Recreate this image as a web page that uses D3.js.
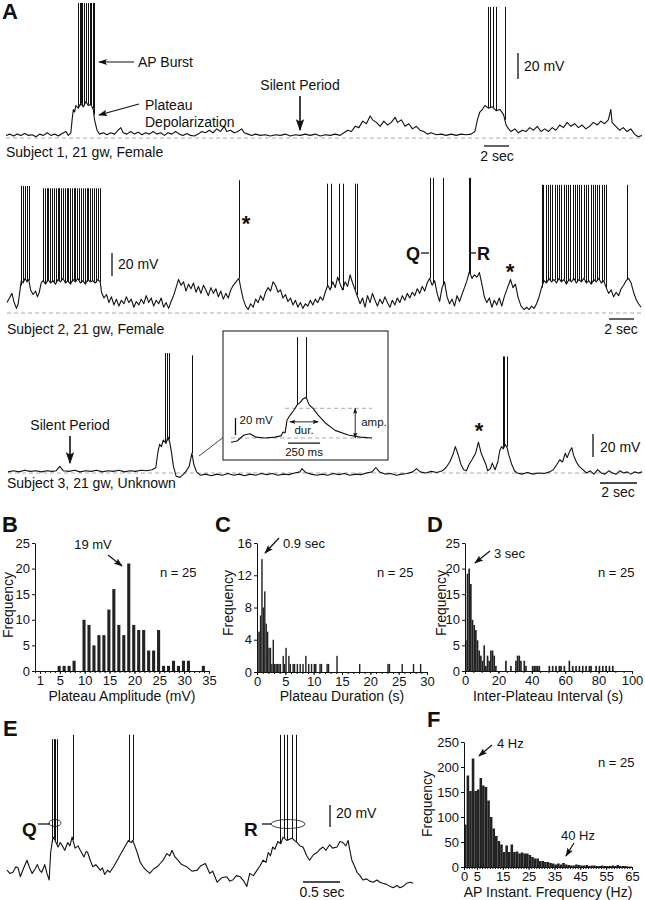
<!DOCTYPE html>
<html>
<head>
<meta charset="utf-8">
<script src="https://cdn.jsdelivr.net/npm/d3@7"></script>
<style>
body { margin: 0; background: #fff; }
svg text { font-family: "Liberation Sans", Arial, Helvetica, sans-serif; fill: #111; }
</style>
</head>
<body>
<svg id="fig" width="645" height="900"></svg>
<script>
// ---------- data ----------

// A, subject 1 trace: [time s, mV above rest]
var trace1 = [[0,2],[0.3,3],[0.6,1.5],[0.9,3],[1.2,2],[1.5,3.5],[1.8,2],[2.1,2.5],[2.4,1],[2.7,3],[3,2],[3.3,4],[3.6,2],[3.9,3],[4.2,1.5],[4.5,3.5],[4.8,5],[5,2],[5.2,4],[5.3,14],[5.4,22],[5.5,20],[5.6,25],[5.8,23],[6,27],[6.2,24],[6.4,28],[6.6,25],[6.8,26],[7,22],[7.1,14],[7.3,6],[7.5,3],[7.8,4],[8.1,2.5],[8.4,4],[8.7,3],[9,6],[9.2,8],[9.4,4],[9.7,3],[10,5],[10.3,3],[10.6,4.5],[10.9,2.5],[11.2,4],[11.5,3],[11.8,5],[12.1,3],[12.4,4],[12.7,2],[13,4],[13.3,3],[13.6,5],[13.9,3],[14.2,2],[14.5,3.5],[14.8,2],[15.1,1.5],[15.4,3],[15.7,5],[16,4],[16.3,6],[16.6,4],[16.9,7],[17.2,5],[17.5,9],[17.7,5],[18,6],[18.3,4],[18.6,5],[18.9,7],[19.1,4],[19.4,3],[19.7,2],[20,3],[20.4,2],[20.8,2.5],[21.2,1.5],[21.6,2.5],[22,2],[22.4,3],[22.8,1.5],[23.2,2.5],[23.6,2],[24,3],[24.4,2],[24.8,3],[25.2,1.5],[25.6,2.5],[26,2],[26.4,3],[26.8,2],[27.1,4],[27.4,6],[27.7,5],[28,9],[28.3,8],[28.6,13],[28.9,11],[29.2,17],[29.4,14],[29.7,12],[30,9],[30.3,13],[30.6,10],[30.9,12],[31.2,16],[31.4,12],[31.7,14],[32,9],[32.3,11],[32.6,7],[32.9,9],[33.2,6],[33.5,5],[33.8,3],[34.1,4],[34.5,2.5],[34.9,3],[35.3,2],[35.7,3],[36.1,2],[36.5,3],[36.9,2.5],[37.3,3],[37.6,5],[37.8,14],[38,20],[38.2,22],[38.4,25],[38.7,23],[39,24],[39.3,21],[39.6,22],[39.9,18],[40.1,10],[40.3,7],[40.5,5],[40.8,7],[41.1,4],[41.4,6],[41.7,5],[42,8],[42.3,6],[42.6,9],[42.9,5],[43.2,7],[43.5,5],[43.8,8],[44.1,6],[44.4,10],[44.7,8],[45,12],[45.3,9],[45.6,11],[45.9,8],[46.2,10],[46.5,7],[46.8,9],[47.1,12],[47.4,10],[47.7,13],[48,11],[48.3,14],[48.5,22],[48.6,12],[48.9,9],[49.2,6],[49.5,8],[49.8,5],[50.1,7],[50.4,3],[50.7,1],[51,2]];
var trace1Spikes = [[5.8,104],[5.9,104],[6.0,104],[6.13,104],[6.25,104],[6.4,104],[6.55,104],[6.72,104],[6.85,104],[6.96,104],[7.05,104],[38.65,101],[38.81,101],[39.05,101],[39.29,101],[40.0,101]];

// A, subject 2 trace
var trace2 = [[0,9],[0.2,13],[0.4,17],[0.55,10],[0.76,4],[0.9,8],[1.05,20],[1.15,28],[1.3,26],[1.45,30],[1.6,27],[1.75,29],[1.9,20],[2.1,16],[2.3,19],[2.45,14],[2.6,18],[2.75,26],[2.9,28],[3.1,25],[3.3,29],[3.5,26],[3.7,28],[3.9,25],[4.1,29],[4.3,27],[4.5,30],[4.7,26],[4.9,28],[5.1,25],[5.3,29],[5.5,27],[5.7,30],[5.9,26],[6.1,28],[6.3,25],[6.5,29],[6.7,27],[6.9,28],[7.1,26],[7.3,29],[7.5,27],[7.6,18],[7.8,13],[8,16],[8.2,9],[8.4,14],[8.6,7],[8.8,12],[9,6],[9.2,11],[9.4,8],[9.6,14],[9.8,9],[10,12],[10.2,5],[10.4,10],[10.6,7],[10.8,12],[11,8],[11.2,15],[11.4,9],[11.6,13],[11.8,6],[12,11],[12.2,8],[12.4,13],[12.6,5],[12.8,9],[13,4],[13.2,10],[13.4,15],[13.6,22],[13.8,29],[14,24],[14.2,27],[14.4,19],[14.6,25],[14.8,21],[15,26],[15.2,18],[15.4,23],[15.6,17],[15.8,24],[16,20],[16.2,15],[16.4,22],[16.6,17],[16.8,21],[17,14],[17.2,19],[17.4,12],[17.6,17],[17.8,13],[18,20],[18.2,24],[18.5,28],[18.66,30],[18.8,22],[19,12],[19.2,6],[19.4,3],[19.6,8],[19.8,5],[20,12],[20.2,9],[20.4,15],[20.6,11],[20.8,18],[21,22],[21.2,19],[21.4,27],[21.6,24],[21.8,18],[22,20],[22.2,13],[22.4,16],[22.6,10],[22.8,13],[23,7],[23.2,11],[23.4,5],[23.6,9],[23.8,4],[24,8],[24.2,6],[24.4,11],[24.6,7],[24.8,12],[25,9],[25.2,14],[25.4,11],[25.6,18],[25.8,24],[26,20],[26.2,27],[26.4,22],[26.6,31],[26.8,25],[27,20],[27.2,27],[27.4,23],[27.6,33],[27.8,26],[28,20],[28.2,14],[28.4,8],[28.6,13],[28.8,5],[29,15],[29.2,9],[29.4,17],[29.6,11],[29.8,6],[30,12],[30.2,8],[30.4,14],[30.6,9],[30.8,5],[31,11],[31.2,7],[31.4,13],[31.6,9],[31.8,15],[32,11],[32.2,17],[32.4,13],[32.6,18],[32.8,15],[33,21],[33.2,17],[33.4,23],[33.6,19],[33.8,26],[34,30],[34.2,24],[34.4,28],[34.6,17],[34.8,10],[35,22],[35.2,27],[35.4,14],[35.6,8],[35.8,12],[36,6],[36.2,15],[36.4,10],[36.6,16],[36.8,22],[37,28],[37.2,36],[37.4,30],[37.6,33],[37.8,31],[38,35],[38.2,25],[38.4,14],[38.6,9],[38.8,13],[39,5],[39.2,11],[39.4,7],[39.6,13],[39.8,6],[40,14],[40.2,20],[40.5,29],[40.7,22],[40.9,25],[41.1,14],[41.35,6],[41.6,3],[41.8,5],[42,3],[42.2,6],[42.4,4],[42.6,8],[42.8,14],[43,22],[43.2,28],[43.4,26],[43.6,30],[43.8,27],[44,29],[44.2,26],[44.4,30],[44.6,27],[44.8,29],[45,25],[45.2,29],[45.4,27],[45.6,30],[45.8,26],[46,29],[46.2,27],[46.4,30],[46.6,26],[46.8,28],[47,25],[47.2,29],[47.4,27],[47.6,30],[47.8,26],[48,28],[48.2,22],[48.4,17],[48.6,20],[48.8,14],[49,18],[49.2,15],[49.4,21],[49.6,24],[49.8,28],[50,30],[50.2,26],[50.4,18],[50.6,12],[50.8,8],[51,5]];
var trace2Spikes = [[1.1,110],[1.26,110],[1.43,110],[1.6,110],[1.76,110],
  [2.92,108],[3.05,108],[3.2,108],[3.32,108],[3.45,108],[3.6,108],[3.78,108],[3.95,108],[4.1,108],[4.22,108],[4.38,108],[4.5,108],[4.65,108],[4.8,108],[4.92,108],[5.05,108],[5.2,108],[5.35,108],[5.5,108],[5.62,108],[5.78,108],[5.92,108],[6.1,108],[6.25,108],[6.4,108],[6.55,108],[6.7,108],[6.85,108],[7.0,108],[7.12,108],[7.3,108],[7.5,108],
  [18.66,115],
  [25.75,112],[26.05,112],[26.7,112],[27.0,112],[28.0,112],[28.15,112],
  [34.0,117],[34.3,117],[35.1,117],[37.17,117],[37.25,117],
  [43.0,111],[43.15,111],[43.35,111],[43.5,111],[43.7,111],[43.85,111],[44.05,111],[44.25,111],[44.4,111],[44.6,111],[44.8,111],[44.95,111],[45.15,111],[45.3,111],[45.5,111],[45.7,111],[45.85,111],[46.05,111],[46.2,111],[46.4,111],[46.6,111],[46.75,111],[46.95,111],[47.1,111],[47.3,111],[47.5,111],[47.65,111],[47.85,111],[48.0,111],[48.2,111],[49.85,111]];

// A, subject 3 trace
var trace3 = [[0,1],[0.3,2],[0.6,1],[0.9,2.5],[1.2,1.5],[1.5,2],[1.8,1],[2.1,2],[2.4,1.5],[2.6,2],[2.8,6],[3,2],[3.3,1.5],[3.6,2.5],[3.9,1],[4.2,2],[4.5,1.5],[4.8,2.5],[5.1,1],[5.4,2],[5.7,1.5],[6,2.5],[6.3,1],[6.6,2],[6.9,1.5],[7.2,2.5],[7.5,2],[7.8,3],[8,5],[8.1,18],[8.2,26],[8.3,24],[8.4,30],[8.55,27],[8.65,33],[8.75,28],[8.85,18],[8.95,6],[9.1,-3],[9.3,-4],[9.5,-1],[9.65,2],[9.8,6],[9.9,14],[9.95,18],[10.05,8],[10.2,1],[10.4,-2],[10.7,-1],[11,-2.5],[11.3,-1],[11.6,-2],[11.9,-0.5],[12.2,-2],[12.5,-1],[12.8,-2.5],[13.1,-1],[13.4,-2],[13.7,-0.5],[14,-1.5],[14.3,-0.5],[14.6,-2],[14.9,-1],[15.2,-1.5],[15.5,0],[15.8,1],[15.9,4],[16.1,0.5],[16.4,-1],[16.7,-2],[17,-1],[17.3,-2],[17.6,-0.5],[17.9,-1.5],[18.2,-0.5],[18.5,-2],[18.8,-1],[19.1,-1.5],[19.4,0],[19.7,1],[19.9,5],[20.1,1],[20.4,-1],[20.7,-0.5],[21,-2],[21.3,-1],[21.6,-0.5],[21.9,1],[22.1,4],[22.3,1],[22.6,0],[22.9,1.5],[23.2,0.5],[23.5,2],[23.7,5],[23.9,10],[24.1,18],[24.2,24],[24.35,17],[24.5,8],[24.65,3],[24.8,2],[24.95,8],[25.1,12],[25.3,18],[25.45,28],[25.6,18],[25.75,12],[25.85,8],[25.95,2],[26.1,4],[26.2,9],[26.35,3],[26.5,10],[26.6,20],[26.7,24],[26.8,22],[26.9,26],[27,23],[27.1,16],[27.25,8],[27.4,2],[27.55,0],[27.8,-1],[28.1,0.5],[28.4,-1],[28.7,0],[29,-0.5],[29.3,1],[29.5,3],[29.7,8],[29.85,12],[30,10],[30.15,18],[30.25,14],[30.4,20],[30.5,23],[30.6,16],[30.75,10],[30.9,6],[31.1,3],[31.3,0],[31.5,2],[31.7,-1],[31.9,3],[32.1,0],[32.3,-1],[32.5,2],[32.7,0],[32.9,-1],[33.1,2],[33.3,0],[33.5,1],[33.7,-1],[33.9,1],[34.1,0],[34.3,1]];
var trace3Spikes = [[8.49,109],[8.59,109],[8.7,109],[9.95,107],[26.76,106],[26.86,106],[26.97,106]];

// inset: [ms, mV]
var insetTrace = [[0,-5],[47,-3.5],[102,3.5],[148,5],[195,1],[266,0],[344,1],[390,2.5],[406,7],[422,6],[437,21],[461,27],[492,33],[516,39],[540,42],[562,46],[586,48],[610,39],[640,35],[680,27],[734,18],[812,9],[914,3.5],[1008,1],[1100,0]];
var insetSpikes = [[516,119],[586,119]];

// E: [s, mV]
var traceE = [[0,9],[0.04,6],[0.08,7],[0.12,12],[0.15,11],[0.18,3],[0.22,10],[0.27,18],[0.3,12],[0.34,6],[0.38,10],[0.41,14],[0.44,9],[0.47,7],[0.51,14],[0.54,6],[0.57,0],[0.59,25],[0.62,39],[0.65,36],[0.69,30],[0.72,34],[0.74,32],[0.78,27],[0.82,34],[0.85,31],[0.88,39],[0.92,29],[0.96,31],[0.99,27],[1.04,21],[1.07,26],[1.09,25],[1.13,17],[1.16,12],[1.2,14],[1.26,9],[1.29,11],[1.32,5],[1.36,9],[1.39,7],[1.44,12],[1.49,18],[1.54,24],[1.59,30],[1.64,36],[1.68,34],[1.7,36],[1.76,25],[1.8,16],[1.84,12],[1.88,9],[1.93,6],[1.98,10],[2.03,12],[2.07,15],[2.11,18],[2.16,24],[2.2,22],[2.23,27],[2.27,21],[2.31,18],[2.36,14],[2.43,12],[2.5,8],[2.57,9],[2.62,13],[2.68,15],[2.74,6],[2.78,8],[2.84,-2],[2.9,2],[2.97,3],[3.01,-1],[3.05,0],[3.1,4],[3.15,3],[3.2,-1],[3.24,-6],[3.28,6],[3.33,4],[3.38,9],[3.42,13],[3.46,18],[3.5,16],[3.53,25],[3.56,22],[3.59,30],[3.62,28],[3.66,35],[3.7,33],[3.73,39],[3.78,36],[3.85,38],[3.92,34],[3.96,31],[4,30],[4.05,22],[4.09,18],[4.14,23],[4.19,25],[4.23,28],[4.27,30],[4.31,27],[4.36,32],[4.4,29],[4.46,30],[4.5,35],[4.54,34],[4.58,31],[4.61,36],[4.63,28],[4.66,18],[4.7,12],[4.73,7],[4.77,4],[4.81,0],[4.86,1],[4.9,-1],[4.95,-2],[5.0,0],[5.04,-2],[5.08,-3],[5.13,-4],[5.18,-6],[5.22,-7],[5.27,-5],[5.31,-7],[5.35,-6],[5.4,-3],[5.45,-2],[5.49,-3]];
var traceESpikes = [[0.61,128],[0.63,128],[0.65,128],[0.67,128],[0.89,132],[1.645,132],[1.70,132],[3.69,132],[3.74,132],[3.79,132],[3.85,132],[3.91,132]];

// B: plateau amplitude (mV)
var ampBins = [1,2,3,4,5,6,7,8,9,10,11,12,13,14,15,16,17,18,19,20,21,22,23,24,25,26,27,28,29,30,31,32,33,34];
var ampCounts = [0,0,0,0,1,1,1,2,0,10,9,5,7,7,12,16,9,7,21,9,8,8,4,4,8,1,1,2,1,2,2,0,0,1];
var ampTicks = [1,5,10,15,20,25,30,35];

// C: plateau duration (s), 0.25 s bins (bin start)
var durBins = [0,0.25,0.5,0.75,1,1.25,1.5,1.75,2,2.25,2.5,2.75,3,3.25,3.5,3.75,4,4.5,4.75,5,5.5,5.75,6.25,6.5,7,7.5,8,8.5,9,9.5,10,10.25,11,11.25,12.25,12.5,14,18,23,23.25,25.5,27.5,28.75];
var durCounts = [5,5,7,14,8,10,6,5,3,3,1,4,1,1,1,1,1,2,1,3,2,1,1,1,1,1,1,2,1,1,1,1,1,1,1,1,2,1,1,1,1,1,1];
var durTicks = [0,5,10,15,20,25,30];

// D: inter-plateau interval (s), 1 s bins
var iviBins = [0,1,2,3,4,5,6,7,8,9,10,11,12,13,14,15,16,17,18,24,27,30,31,32,33,35,36,40,41,42,43,44,50,52,54,56,57,59,62,64,66,68,70,72,74,75,78,80,82,84,86,88];
var iviCounts = [6,19,20,17,10,9,8,6,4,3,2,5,1,3,2,4,4,3,1,2,1,2,3,3,2,2,1,1,1,1,1,1,1,1,1,1,1,1,2,1,1,1,1,1,1,1,1,1,1,1,1,1];
var iviTicks = [0,20,40,60,80,100];

// F: AP instantaneous frequency (Hz), 1 Hz bins 0..64
var freqCounts = [85,183,152,217,152,155,178,163,160,133,100,77,62,52,45,30,43,30,45,30,31,27,29,27,27,24,20,17,17,12,12,10,10,8,7,5,7,5,8,5,4,3,3,5,4,3,3,4,2,3,3,2,2,3,2,2,2,3,2,4,2,2,2,1,1];
var freqTicks = [0,5,15,25,35,45,55,65];

// ---------- drawing ----------
var svg = d3.select("#fig");
var ink = "#111";

var defs = svg.append("defs");
function marker(id, w) {
    defs.append("marker").attr("id", id)
        .attr("viewBox", "0 0 10 10").attr("refX", 9).attr("refY", 5)
        .attr("markerWidth", w).attr("markerHeight", w)
        .attr("markerUnits", "userSpaceOnUse")
        .attr("orient", "auto-start-reverse")
      .append("path").attr("d", "M0,1.5 L10,5 L0,8.5 L2,5 z").attr("fill", ink);
}
marker("ah", 9);
marker("big", 12);
marker("small", 6);

function text(x, y, s, size, opts) {
    opts = opts || {};
    var t = svg.append("text").attr("x", x).attr("y", y).text(s)
        .attr("font-size", size)
        .attr("text-anchor", opts.anchor || "start");
    if (opts.bold) t.attr("font-weight", "bold");
    if (opts.rotate) t.attr("transform", "rotate(-90," + x + "," + y + ")");
    return t;
}
function arrow(x1, y1, x2, y2, m, w) {
    svg.append("line").attr("x1", x1).attr("y1", y1).attr("x2", x2).attr("y2", y2)
        .attr("stroke", ink).attr("stroke-width", w || 1.2)
        .attr("marker-end", "url(#" + (m || "ah") + ")");
}
function bar(x1, y1, x2, y2) {
    svg.append("line").attr("x1", x1).attr("y1", y1).attr("x2", x2).attr("y2", y2)
        .attr("stroke", ink).attr("stroke-width", 1.3);
}

// value of a trace at time t (to find the foot of each spike)
function valueAt(pts, t) {
    var i = d3.bisector(function(d) { return d[0]; }).left(pts, t);
    i = Math.max(1, Math.min(pts.length - 1, i));
    var a = pts[i - 1], b = pts[i];
    return a[1] + (b[1] - a[1]) * (t - a[0]) / (b[0] - a[0]);
}

function drawTrace(pts, spikes, xs, ys, dashed) {
    var g = svg.append("g");
    if (dashed) {
        g.append("line")
            .attr("x1", xs.range()[0]).attr("x2", xs.range()[1])
            .attr("y1", ys(0)).attr("y2", ys(0))
            .attr("stroke", "#aaa").attr("stroke-width", 1)
            .attr("stroke-dasharray", "4,3");
    }
    g.append("path").datum(pts)
        .attr("d", d3.line().x(function(d) { return xs(d[0]); }).y(function(d) { return ys(d[1]); }))
        .attr("fill", "none").attr("stroke", ink).attr("stroke-width", 1.1)
        .attr("stroke-linejoin", "round");
    g.selectAll("line.spk").data(spikes).join("line").attr("class", "spk")
        .attr("x1", function(d) { return Math.round(xs(d[0])) + 0.5; })
        .attr("x2", function(d) { return Math.round(xs(d[0])) + 0.5; })
        .attr("y1", function(d) { return ys(valueAt(pts, d[0])); })
        .attr("y2", function(d) { return ys(d[1]); })
        .attr("stroke", ink).attr("stroke-width", 1);
}

// ----- Panel A -----
text(2, 19, "A", 22, {bold: true});

var x1 = d3.scaleLinear().domain([0, 51]).range([6, 642]);
var y1 = d3.scaleLinear().domain([0, 104]).range([138, 3]);
drawTrace(trace1, trace1Spikes, x1, y1, true);
text(138, 67, "AP Burst", 14);
arrow(134, 62, 99, 62);
text(145, 110, "Plateau", 14);
text(145, 127, "Depolarization", 14);
arrow(139, 104, 99, 115);
text(300, 90, "Silent Period", 14, {anchor: "middle"});
arrow(300, 96, 300, 130, "big", 1.6);
bar(518, 53, 518, 79);
text(524, 71, "20 mV", 14);
bar(484, 146, 509, 146);
text(497, 161, "2 sec", 14, {anchor: "middle"});
text(6, 157, "Subject 1, 21 gw, Female", 14);

var x2 = d3.scaleLinear().domain([0, 51]).range([7, 641]);
var y2 = d3.scaleLinear().domain([0, 110]).range([313, 186]);
drawTrace(trace2, trace2Spikes, x2, y2, true);
bar(112, 253, 112, 276);
text(118, 269, "20 mV", 14);
bar(609, 319, 634, 319);
text(621, 334, "2 sec", 14, {anchor: "middle"});
text(7, 334, "Subject 2, 21 gw, Female", 14);
text(246, 231, "*", 22, {bold: true, anchor: "middle"});
text(510, 279, "*", 22, {bold: true, anchor: "middle"});
text(406, 260, "Q", 18, {bold: true});
bar(421, 253, 429, 253);
text(477, 260, "R", 18, {bold: true});
bar(471, 253, 476, 253);

var x3 = d3.scaleLinear().domain([0, 34.3]).range([8, 642]);
var y3 = d3.scaleLinear().domain([0, 110]).range([473, 352]);
drawTrace(trace3, trace3Spikes, x3, y3, true);
text(70, 430, "Silent Period", 14, {anchor: "middle"});
arrow(70, 436, 70, 463, "big", 1.6);
bar(593, 434, 593, 457);
text(600, 452, "20 mV", 14);
bar(600, 483, 637, 483);
text(618, 497, "2 sec", 14, {anchor: "middle"});
text(7, 488, "Subject 3, 21 gw, Unknown", 14);
text(479, 438, "*", 22, {bold: true, anchor: "middle"});
svg.append("line").attr("x1", 199).attr("y1", 456).attr("x2", 229).attr("y2", 433)
    .attr("stroke", ink).attr("stroke-width", 0.8);

// inset
svg.append("rect").attr("x", 223).attr("y", 331).attr("width", 165).attr("height", 129)
    .attr("fill", "#fff").attr("stroke", ink).attr("stroke-width", 1);
var xi = d3.scaleLinear().domain([0, 1100]).range([231, 372]);
var yi = d3.scaleLinear().domain([0, 119]).range([438, 337]);
svg.append("line").attr("x1", xi(0)).attr("x2", xi(1100)).attr("y1", yi(0)).attr("y2", yi(0))
    .attr("stroke", "#aaa").attr("stroke-dasharray", "4,3");
svg.append("line").attr("x1", xi(422)).attr("x2", xi(1100)).attr("y1", yi(35)).attr("y2", yi(35))
    .attr("stroke", "#aaa").attr("stroke-dasharray", "4,3");
drawTrace(insetTrace, insetSpikes, xi, yi, false);
bar(xi(35), yi(23.5), xi(35), yi(3.5));
text(xi(35) + 4, 424, "20 mV", 11.5);
svg.append("line").attr("x1", xi(460)).attr("x2", xi(680)).attr("y1", yi(19)).attr("y2", yi(19))
    .attr("stroke", ink).attr("stroke-width", 0.9)
    .attr("marker-start", "url(#small)").attr("marker-end", "url(#small)");
text(xi(570), 434, "dur.", 11.5, {anchor: "middle"});
svg.append("line").attr("x1", xi(969)).attr("x2", xi(969)).attr("y1", yi(35)).attr("y2", yi(0))
    .attr("stroke", ink).attr("stroke-width", 0.9)
    .attr("marker-start", "url(#small)").attr("marker-end", "url(#small)");
text(xi(969) + 6, 426, "amp.", 11.5);
bar(xi(445), yi(-6), xi(695), yi(-6));
text(xi(570), 456, "250 ms", 11.5, {anchor: "middle"});

// ----- histograms -----
function axes(xs, ys, xMajor, xMinor, yTicks) {
    var g = svg.append("g").attr("transform", "translate(0," + ys(0) + ")");
    g.call(d3.axisBottom(xs).tickValues(xMinor).tickSize(2).tickFormat("").tickSizeOuter(0));
    g.select(".domain").remove();
    var g2 = svg.append("g").attr("transform", "translate(0," + ys(0) + ")");
    g2.call(d3.axisBottom(xs).tickValues(xMajor).tickSize(3).tickPadding(2).tickSizeOuter(0));
    var gy = svg.append("g").attr("transform", "translate(" + xs(0) + ",0)");
    gy.call(d3.axisLeft(ys).tickValues(yTicks).tickSize(3).tickPadding(2).tickSizeOuter(0));
    [g, g2, gy].forEach(function(a) {
        a.attr("font-size", 13).attr("font-family", "Liberation Sans, Arial, sans-serif");
        a.selectAll("line,path").attr("stroke", ink);
        a.selectAll("text").attr("fill", "#111");
    });
}
function bars(bins, counts, xs, ys, x0off, w) {
    svg.append("g").selectAll("rect").data(bins).join("rect")
        .attr("x", function(d) { return xs(d + x0off); })
        .attr("width", xs(w) - xs(0))
        .attr("y", function(d, i) { return ys(counts[i]); })
        .attr("height", function(d, i) { return ys(0) - ys(counts[i]); })
        .attr("fill", "#222");
}

// B
var xb = d3.scaleLinear().domain([0, 35]).range([35, 209]);
var yb = d3.scaleLinear().domain([0, 25]).range([671, 543]);
bars(ampBins, ampCounts, xb, yb, -0.45, 0.62);
axes(xb, yb, ampTicks, d3.range(0, 36, 1), [0, 5, 10, 15, 20, 25]);
text(2, 532, "B", 22, {bold: true});
text(13, 605, "Frequency", 14, {rotate: true, anchor: "middle"});
text(122, 701, "Plateau Amplitude (mV)", 14, {anchor: "middle"});
text(93, 549, "19 mV", 13, {anchor: "middle"});
arrow(108, 555, 122, 566);
text(160, 577, "n = 25", 13);

// C
var xc = d3.scaleLinear().domain([0, 30]).range([257, 427]);
var yc = d3.scaleLinear().domain([0, 16]).range([672, 543]);
bars(durBins, durCounts, xc, yc, 0, 0.25);
axes(xc, yc, durTicks, d3.range(0, 30.5, 1), [0, 4, 8, 12, 16]);
text(215, 532, "C", 22, {bold: true});
text(233, 603, "Frequency", 14, {rotate: true, anchor: "middle"});
text(342, 701, "Plateau Duration (s)", 14, {anchor: "middle"});
text(283, 548, "0.9 sec", 13);
arrow(279, 538, 265, 553);
text(377, 577, "n = 25", 13);

// D
var xd = d3.scaleLinear().domain([0, 100]).range([465, 632]);
var yd = d3.scaleLinear().domain([0, 25]).range([671, 543]);
bars(iviBins, iviCounts, xd, yd, 0, 1);
axes(xd, yd, iviTicks, d3.range(0, 101, 5), [0, 5, 10, 15, 20, 25]);
text(427, 532, "D", 22, {bold: true});
text(446, 603, "Frequency", 14, {rotate: true, anchor: "middle"});
text(548, 701, "Inter-Plateau Interval (s)", 14, {anchor: "middle"});
text(494, 558, "3 sec", 13);
arrow(490, 551, 475, 563);
text(598, 577, "n = 25", 13);

// F
var freqBins = freqCounts.map(function(d, i) { return i; });
var xf = d3.scaleLinear().domain([0, 65]).range([464, 632]);
var yf = d3.scaleLinear().domain([0, 250]).range([867, 742]);
bars(freqBins, freqCounts, xf, yf, 0, 1);
axes(xf, yf, freqTicks, d3.range(0, 66, 1), [0, 50, 100, 150, 200, 250]);
text(427, 727, "F", 22, {bold: true});
text(432, 804, "Frequency", 14, {rotate: true, anchor: "middle"});
text(548, 897, "AP Instant. Frequency (Hz)", 14, {anchor: "middle"});
text(497, 748, "4 Hz", 13);
arrow(492, 745, 479, 756);
text(598, 767, "n = 25", 13);
text(578, 840, "40 Hz", 13, {anchor: "middle"});
arrow(574, 843, 566, 856);

// ----- Panel E -----
text(3, 736, "E", 22, {bold: true});
var xe = d3.scaleLinear().domain([0, 5.5]).range([7, 414]);
var ye = d3.scaleLinear().domain([0, 130]).range([880, 737]);
drawTrace(traceE, traceESpikes, xe, ye, false);
text(22, 836, "Q", 19, {bold: true});
bar(38, 824, 50, 824);
svg.append("ellipse").attr("cx", 55).attr("cy", 823).attr("rx", 6).attr("ry", 3.5)
    .attr("fill", "none").attr("stroke", ink).attr("stroke-width", 0.8);
text(244, 836, "R", 19, {bold: true});
bar(262, 824, 271, 824);
svg.append("ellipse").attr("cx", 288).attr("cy", 824).attr("rx", 17).attr("ry", 4.5)
    .attr("fill", "none").attr("stroke", ink).attr("stroke-width", 0.8);
bar(330, 805, 330, 827);
text(336, 818, "20 mV", 14);
bar(303, 882, 340, 882);
text(322, 897, "0.5 sec", 14, {anchor: "middle"});
</script>
</body>
</html>
